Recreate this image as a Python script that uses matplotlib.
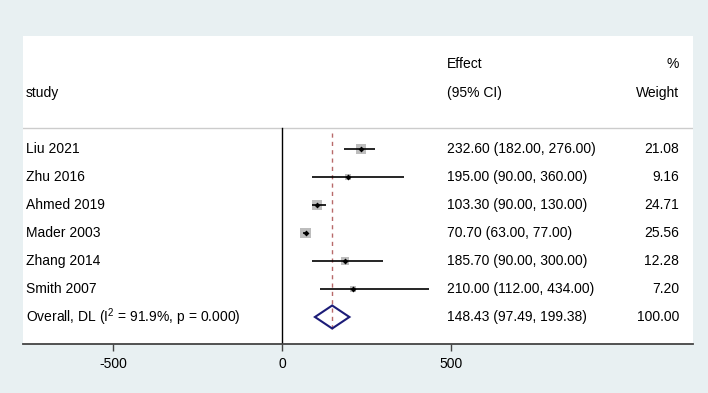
import matplotlib
matplotlib.use("Agg")
import matplotlib.pyplot as plt
from matplotlib.patches import Polygon

plt.rcParams["font.family"] = ["Liberation Sans", "DejaVu Sans"]
plt.rcParams["mathtext.fontset"] = "custom"
plt.rcParams["mathtext.rm"] = "Liberation Sans"
plt.rcParams["mathtext.it"] = "Liberation Sans"

studies = ["Liu 2021", "Zhu 2016", "Ahmed 2019", "Mader 2003", "Zhang 2014", "Smith 2007"]
effect = [232.60, 195.00, 103.30, 70.70, 185.70, 210.00]
ci_low = [182.00, 90.00, 90.00, 63.00, 90.00, 112.00]
ci_high = [276.00, 360.00, 130.00, 77.00, 300.00, 434.00]
weight = [21.08, 9.16, 24.71, 25.56, 12.28, 7.20]

overall_label = "Overall, DL (I$^{2}$ = 91.9%, p = 0.000)"
overall_est = 148.43
overall_low = 97.49
overall_high = 199.38
overall_weight = 100.00

xticks = [-500, 0, 500]

W, H = 708, 393
BG = "#e8f0f2"
fig = plt.figure(figsize=(W / 100, H / 100), dpi=100, facecolor=BG)

# panel in pixels
left_px, right_px, top_px, bottom_px = 23, 693, 36, 344
ax = fig.add_axes([left_px / W, 1 - bottom_px / H,
                   (right_px - left_px) / W, (bottom_px - top_px) / H])
ax.set_facecolor("white")

# x: 0 at px 282, 500 units = 169 px ; y: row i at px 149 + 28 i
x0_px, scale = 282, 169 / 500
row0_px, row_h = 149, 28


def px2x(px):
    return (px - x0_px) / scale


def px2y(py):
    return (py - row0_px) / row_h


ax.set_xlim(px2x(left_px), px2x(right_px))
ax.set_ylim(px2y(bottom_px), px2y(top_px))

for s in ["top", "right", "left"]:
    ax.spines[s].set_visible(False)
ax.spines["bottom"].set_color("#444444")
ax.spines["bottom"].set_linewidth(1.3)
ax.set_yticks([])
ax.set_xticks(xticks)
ax.set_xticklabels([str(t) for t in xticks], fontsize=10)
ax.tick_params(axis="x", length=5, width=1, color="#444444", pad=4)

# header
hdr_line = px2y(128)
ax.axhline(hdr_line, color="#cccccc", lw=1)
ax.text(px2x(26), px2y(93), "study", fontsize=10, va="center", ha="left")
ax.text(px2x(447), px2y(64), "Effect", fontsize=10, va="center", ha="left")
ax.text(px2x(447), px2y(93), "(95% CI)", fontsize=10, va="center", ha="left")
ax.text(px2x(679), px2y(64), "%", fontsize=10, va="center", ha="right")
ax.text(px2x(679), px2y(93), "Weight", fontsize=10, va="center", ha="right")

# null line and overall line
ax.plot([0, 0], [hdr_line, px2y(bottom_px)], color="black", lw=1)
ax.plot([overall_est, overall_est], [px2y(133), px2y(331)], color="#b86a6a",
        lw=1, dashes=(3, 3))

rows = list(range(len(studies)))
for i, name in enumerate(studies):
    ax.text(px2x(26), i, name, fontsize=10, va="center", ha="left")
    ax.text(px2x(447), i, f"{effect[i]:.2f} ({ci_low[i]:.2f}, {ci_high[i]:.2f})",
            fontsize=10, va="center", ha="left")
    ax.text(px2x(679), i, f"{weight[i]:.2f}", fontsize=10, va="center", ha="right")

ax.scatter(effect, rows, marker="s", s=[2.45 * w for w in weight],
           color="#bdbdbd", zorder=2, linewidths=0)
ax.hlines(rows, ci_low, ci_high, color="black", lw=1.2, zorder=3)
ax.scatter(effect, rows, marker="D", s=9, color="black", zorder=4, linewidths=0)

# overall
yo = len(studies)
h = 11.5 / row_h
ax.add_patch(Polygon([(overall_low, yo), (overall_est, yo - h),
                      (overall_high, yo), (overall_est, yo + h)],
                     closed=True, facecolor="none", edgecolor="#1c1c78", lw=1.5,
                     zorder=5))
ax.text(px2x(26), yo, overall_label, fontsize=10, va="center", ha="left")
ax.text(px2x(447), yo, f"{overall_est:.2f} ({overall_low:.2f}, {overall_high:.2f})",
        fontsize=10, va="center", ha="left")
ax.text(px2x(679), yo, f"{overall_weight:.2f}", fontsize=10, va="center", ha="right")

fig.savefig("out.png", dpi=100, facecolor=BG)
